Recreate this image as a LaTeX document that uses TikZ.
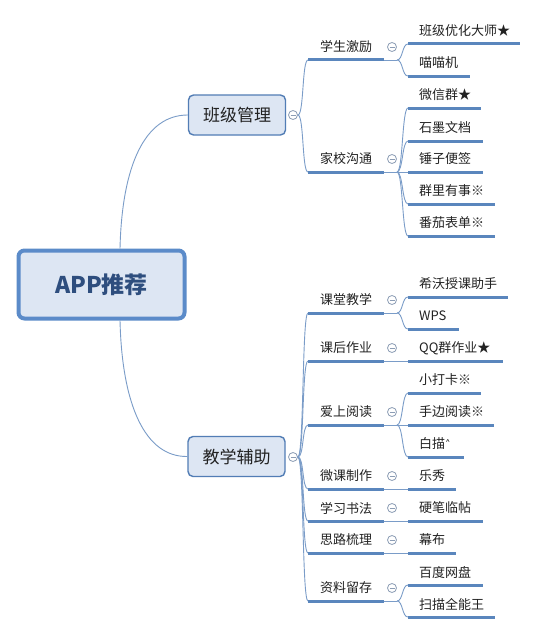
\documentclass[tikz,border=0pt]{standalone}
\usepackage{fontspec}
\setmainfont{Noto Sans CJK SC}
\newfontfamily\dvfont{DejaVu Sans}
\definecolor{ulc}{HTML}{5A86BD}
\definecolor{cnc}{HTML}{7A9CC8}
\definecolor{bxd}{HTML}{5B8BC9}
\definecolor{bxf}{HTML}{DDE6F3}
\definecolor{txc}{HTML}{222222}
\definecolor{rtx}{HTML}{2E4E7E}
\definecolor{tgc}{HTML}{8C9DB5}
\newcommand{\mkbranch}[5]{%
 \coordinate (#1) at (308,#2);
 \coordinate (#1e) at (384,#2);
 \coordinate (#1b) at (397,#2);
 \draw[conn] (#4.east) .. controls (304,#5) and (302,#2) .. (#1);
 \draw[uline] (#1) -- (#1e);
 \draw[conn] (#1e) -- (#1b);
 \node[lab] (#1t) at (320,#2-13) {#3};
 \node[tog] (#1g) at (392,#2-13) {};
}
\newcommand{\mkleaf}[6]{%
 \coordinate (#1) at (408,#2);
 \coordinate (#1e) at (#3,#2);
 \draw[conn] (#5) .. controls (403,#6) and (402,#2) .. (#1);
 \draw[uline] (#1) -- (#1e);
 \node[lab] (#1t) at (419,#2-13) {#4};
}
\begin{document}
\begin{tikzpicture}[x=1pt,y=-1pt,
 rootbox/.style={draw=bxd,line width=4pt,fill=bxf,rounded corners=6pt,minimum width=166pt,minimum height=68pt,inner sep=0pt,text=rtx,font=\fontsize{23}{26}\selectfont\bfseries},
 mainbox/.style={draw=bxd!90!black,line width=1.4pt,fill=bxf,rounded corners=5pt,minimum width=97pt,minimum height=40pt,inner sep=0pt,text=txc,font=\fontsize{17}{20}\selectfont},
 lab/.style={anchor=west,inner sep=0pt,text=txc,font=\fontsize{13}{15}\selectfont},
 uline/.style={draw=ulc,line width=3pt},
 conn/.style={draw=cnc,line width=0.9pt},
 tog/.style={circle,draw=tgc,line width=0.8pt,minimum size=9pt,inner sep=0pt,fill=white,
   path picture={\draw[tgc,line width=0.8pt] ([xshift=-2.5pt]path picture bounding box.center) -- ([xshift=2.5pt]path picture bounding box.center);}}
]
\useasboundingbox (0,0) rectangle (538,634);
\fill[white] (0,0) rectangle (538,634);

\node[rootbox] (root) at (101.5,284.5) {APP推荐};
\node[mainbox] (bj) at (237,115) {班级管理};
\node[mainbox] (jx) at (236.5,456.5) {教学辅助};
\node[tog] (tbj) at (293,115) {};
\node[tog] (tjx) at (293,457) {};

\draw[conn] ([xshift=18.5pt]root.north) .. controls (122,165) and (145,115) .. (bj.west);
\draw[conn] ([xshift=18.5pt]root.south) .. controls (122,405) and (145,457) .. (jx.west);

% 班级管理
\mkbranch{s1}{60}{学生激励}{tbj}{115}
\mkbranch{s2}{172}{家校沟通}{tbj}{115}
\mkleaf{l1}{44}{520}{班级优化大师★}{s1b}{60}
\mkleaf{l2}{76}{470}{喵喵机}{s1b}{60}
\mkleaf{l3}{108}{481}{微信群★}{s2b}{172}
\mkleaf{l4}{141}{483}{石墨文档}{s2b}{172}
\mkleaf{l5}{172}{483}{锤子便签}{s2b}{172}
\mkleaf{l6}{204}{495}{群里有事※}{s2b}{172}
\mkleaf{l7}{236}{495}{番茄表单※}{s2b}{172}

% 教学辅助
\mkbranch{s3}{313}{课堂教学}{tjx}{457}
\mkbranch{s4}{361}{课后作业}{tjx}{457}
\mkbranch{s5}{425}{爱上阅读}{tjx}{457}
\mkbranch{s6}{489}{微课制作}{tjx}{457}
\mkbranch{s7}{521}{学习书法}{tjx}{457}
\mkbranch{s8}{553}{思路梳理}{tjx}{457}
\mkbranch{s9}{601}{资料留存}{tjx}{457}
\mkleaf{l8}{297}{508}{希沃授课助手}{s3b}{313}
\mkleaf{l9}{329}{459}{WPS}{s3b}{313}
\mkleaf{l10}{361}{503}{QQ群作业★}{s4b}{361}
\mkleaf{l11}{393}{481}{小打卡※}{s5b}{425}
\mkleaf{l12}{425}{494}{手边阅读※}{s5b}{425}
\mkleaf{l13}{457}{464}{白描{\dvfont\fontsize{11}{12}\selectfont ˄}}{s5b}{425}
\mkleaf{l14}{489}{456}{乐秀}{s6b}{489}
\mkleaf{l15}{521}{483}{硬笔临帖}{s7b}{521}
\mkleaf{l16}{553}{456}{幕布}{s8b}{553}
\mkleaf{l17}{585}{483}{百度网盘}{s9b}{601}
\mkleaf{l18}{617}{495}{扫描全能王}{s9b}{601}
\end{tikzpicture}
\end{document}
